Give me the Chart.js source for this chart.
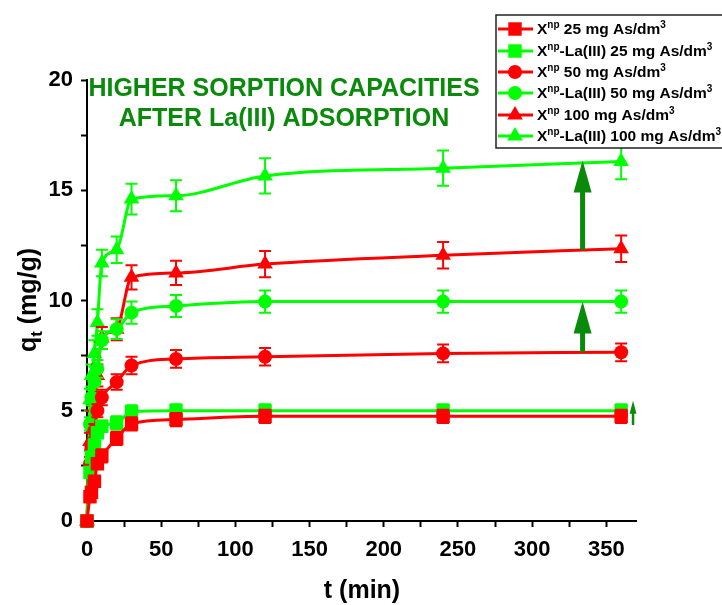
<!DOCTYPE html>
<html>
<head>
<meta charset="utf-8">
<script src="https://cdn.jsdelivr.net/npm/chart.js@4.4.1/dist/chart.umd.min.js"></script>
<style>
  html, body { margin: 0; padding: 0; background: #fff; }
</style>
</head>
<body>
<canvas id="kinetics" width="722" height="605"></canvas>
<script>
// contact time (min)
var times = [0, 2, 3, 5, 7, 10, 20, 30, 60, 120, 240, 360];

// q_t (mg/g) for each series
var np25 = [0, 1.1, 1.3, 1.8, 2.6, 2.95, 3.75, 4.4, 4.6, 4.75, 4.75, 4.75];
var npLa25 = [0, 2.2, 2.9, 3.4, 4.0, 4.3, 4.45, 4.95, 5.0, 5.0, 5.0, 5.0];
var np50 = [0, 2.6, 3.3, 4.1, 5.0, 5.6, 6.3, 7.05, 7.35, 7.45, 7.6, 7.65];
var npLa50 = [0, 4.4, 5.6, 6.3, 6.9, 8.2, 8.7, 9.45, 9.75, 9.95, 9.95, 9.95];
var np100 = [0, 3.6, 4.6, 5.4, 6.6, 8.3, 8.7, 11.05, 11.25, 11.65, 12.05, 12.35];
var npLa100 = [0, 5.5, 6.6, 7.6, 9.0, 11.7, 12.3, 14.6, 14.75, 15.65, 16.0, 16.3];

// error bars (+/-)
var np25Err = [0, 0.2, 0.2, 0.25, 0.25, 0.3, 0.3, 0.3, 0.3, 0.3, 0.3, 0.3];
var npLa25Err = [0, 0.2, 0.2, 0.25, 0.25, 0.25, 0.3, 0.3, 0.3, 0.3, 0.3, 0.3];
var np50Err = [0, 0.3, 0.3, 0.3, 0.3, 0.35, 0.35, 0.4, 0.4, 0.4, 0.4, 0.4];
var npLa50Err = [0, 0.3, 0.35, 0.35, 0.4, 0.4, 0.45, 0.5, 0.5, 0.5, 0.5, 0.5];
var np100Err = [0, 0.4, 0.4, 0.45, 0.5, 0.5, 0.5, 0.55, 0.55, 0.6, 0.6, 0.6];
var npLa100Err = [0, 0.5, 0.5, 0.6, 0.6, 0.6, 0.6, 0.7, 0.7, 0.8, 0.8, 0.8];

// legend labels: [text, superscript] pairs
var labels = [
  [["X", 0], ["np", 1], [" 25 mg As/dm", 0], ["3", 1]],
  [["X", 0], ["np", 1], ["-La(III) 25 mg As/dm", 0], ["3", 1]],
  [["X", 0], ["np", 1], [" 50 mg As/dm", 0], ["3", 1]],
  [["X", 0], ["np", 1], ["-La(III) 50 mg As/dm", 0], ["3", 1]],
  [["X", 0], ["np", 1], [" 100 mg As/dm", 0], ["3", 1]],
  [["X", 0], ["np", 1], ["-La(III) 100 mg As/dm", 0], ["3", 1]]
];

var xTicks = [0, 25, 50, 75, 100, 125, 150, 175, 200, 225, 250, 275, 300, 325, 350];
var titleLines = ["HIGHER SORPTION CAPACITIES", "AFTER La(III) ADSORPTION"];

// arrows: time, from q, to q
var arrowT = [334, 334, 368];
var arrowFrom = [12.3, 7.65, 4.35];
var arrowTo = [16.35, 9.95, 5.45];

var RED = "#ff0000";
var GREEN = "#00ff00";
var DARKGREEN = "#0a8a0a";
var FONT = "'Liberation Sans', Arial, sans-serif";

function pts(ys) {
  return times.map(function(t, i) { return {x: t, y: ys[i]}; });
}

function series(ys, color, style, radius) {
  return {
    data: pts(ys),
    borderColor: color,
    backgroundColor: color,
    borderWidth: 3,
    pointStyle: style,
    pointRadius: radius,
    pointHoverRadius: radius,
    pointBorderWidth: 0,
    cubicInterpolationMode: "monotone",
    clip: false
  };
}

var errs = [np25Err, npLa25Err, np50Err, npLa50Err, np100Err, npLa100Err];

function drawRich(ctx, parts, x, y, size) {
  ctx.textBaseline = "alphabetic";
  ctx.textAlign = "left";
  for (var i = 0; i < parts.length; i++) {
    var sup = parts[i][1];
    ctx.font = "bold " + (sup ? Math.round(size * 0.66) : size) + "px " + FONT;
    ctx.fillText(parts[i][0], x, sup ? y - size * 0.4 : y);
    x += ctx.measureText(parts[i][0]).width;
  }
  return x;
}

var extras = {
  id: "extras",
  beforeDatasetDraw: function(chart, args) {
    var ctx = chart.ctx;
    var ys = chart.scales.y;
    var ds = chart.data.datasets[args.index];
    var e = errs[args.index];
    var meta = args.meta;
    ctx.save();
    ctx.strokeStyle = ds.borderColor;
    ctx.lineWidth = 2;
    for (var j = 0; j < meta.data.length; j++) {
      if (!e[j]) continue;
      var p = meta.data[j];
      var v = ds.data[j].y;
      var top = ys.getPixelForValue(v + e[j]);
      var bot = ys.getPixelForValue(v - e[j]);
      ctx.beginPath();
      ctx.moveTo(p.x, top); ctx.lineTo(p.x, bot);
      ctx.moveTo(p.x - 6, top); ctx.lineTo(p.x + 6, top);
      ctx.moveTo(p.x - 6, bot); ctx.lineTo(p.x + 6, bot);
      ctx.stroke();
    }
    ctx.restore();
  },
  afterDraw: function(chart) {
    var ctx = chart.ctx;
    var xs = chart.scales.x, ys = chart.scales.y;
    ctx.save();

    // arrows
    ctx.fillStyle = DARKGREEN;
    for (var k = 0; k < arrowT.length; k++) {
      var ax = xs.getPixelForValue(arrowT[k]);
      var y0 = ys.getPixelForValue(arrowFrom[k]);
      var y1 = ys.getPixelForValue(arrowTo[k]);
      var big = (arrowTo[k] - arrowFrom[k]) > 1.5;
      var sw = big ? 5 : 2.5, hw = big ? 9 : 3.5, hl = big ? 32 : 13;
      ctx.fillRect(ax - sw / 2, y1 + hl - 2, sw, y0 - y1 - hl + 2);
      ctx.beginPath();
      ctx.moveTo(ax, y1);
      ctx.lineTo(ax + hw, y1 + hl);
      ctx.lineTo(ax - hw, y1 + hl);
      ctx.closePath();
      ctx.fill();
    }

    // title
    ctx.fillStyle = DARKGREEN;
    ctx.font = "bold 25px " + FONT;
    ctx.textAlign = "center";
    ctx.textBaseline = "middle";
    ctx.fillText(titleLines[0], 284, 89);
    ctx.fillText(titleLines[1], 284, 119);

    // axis titles
    ctx.fillStyle = "#000";
    ctx.font = "bold 25px " + FONT;
    ctx.fillText("t (min)", 362, 591);

    ctx.save();
    ctx.translate(27, 300);
    ctx.rotate(-Math.PI / 2);
    ctx.textBaseline = "alphabetic";
    ctx.textAlign = "left";
    ctx.font = "bold 25px " + FONT;
    var wq = ctx.measureText("q").width;
    var wr = ctx.measureText(" (mg/g)").width;
    ctx.font = "bold 17px " + FONT;
    var wt = ctx.measureText("t").width;
    var sx = -(wq + wt + wr) / 2;
    ctx.font = "bold 25px " + FONT;
    ctx.fillText("q", sx, 9);
    ctx.font = "bold 17px " + FONT;
    ctx.fillText("t", sx + wq, 15);
    ctx.font = "bold 25px " + FONT;
    ctx.fillText(" (mg/g)", sx + wq + wt, 9);
    ctx.restore();

    // legend
    ctx.fillStyle = "#fff";
    ctx.fillRect(496, 15, 240, 133);
    ctx.strokeStyle = "#222";
    ctx.lineWidth = 1.5;
    ctx.strokeRect(496, 15, 240, 133);
    var rowY = [29, 51, 72, 93, 115, 136];
    chart.data.datasets.forEach(function(ds, i) {
      var y = rowY[i];
      ctx.strokeStyle = ds.borderColor;
      ctx.lineWidth = 3;
      ctx.beginPath();
      ctx.moveTo(498, y); ctx.lineTo(533, y);
      ctx.stroke();
      ctx.fillStyle = ds.borderColor;
      Chart.helpers.drawPoint(ctx, {pointStyle: ds.pointStyle, radius: ds.pointRadius, borderWidth: 0}, 515, y);
      ctx.fillStyle = "#000";
      drawRich(ctx, labels[i], 537, y + 5, 15.5);
    });

    ctx.restore();
  }
};

var ctx = document.getElementById("kinetics").getContext("2d");
var chart = new Chart(ctx, {
  type: "line",
  data: {
    datasets: [
      series(np25, RED, "rect", 9.5),
      series(npLa25, GREEN, "rect", 9.5),
      series(np50, RED, "circle", 7),
      series(npLa50, GREEN, "circle", 7),
      series(np100, RED, "triangle", 9),
      series(npLa100, GREEN, "triangle", 9)
    ]
  },
  options: {
    responsive: false,
    animation: false,
    layout: {padding: {left: 0, top: 80, right: 86, bottom: 0}},
    plugins: {legend: {display: false}, tooltip: {enabled: false}},
    scales: {
      x: {
        type: "linear",
        min: 0,
        max: 370,
        afterFit: function(s) { s.height = 84; },
        afterBuildTicks: function(s) { s.ticks = xTicks.map(function(v) { return {value: v}; }); },
        border: {color: "#000", width: 2},
        grid: {drawOnChartArea: false, color: "#000", tickLength: 6, tickWidth: 2},
        ticks: {
          autoSkip: false,
          maxRotation: 0,
          padding: 10,
          color: "#000",
          font: {family: FONT, size: 22, weight: "bold"},
          callback: function(v) { return v % 50 === 0 ? v : ""; }
        }
      },
      y: {
        min: 0,
        max: 20,
        afterFit: function(s) { s.width = 87; },
        border: {color: "#000", width: 2},
        grid: {drawOnChartArea: false, color: "#000", tickLength: 6, tickWidth: 2},
        ticks: {
          stepSize: 2.5,
          autoSkip: false,
          padding: 8,
          color: "#000",
          font: {family: FONT, size: 22, weight: "bold"},
          callback: function(v) { return v % 5 === 0 ? v : ""; }
        }
      }
    }
  },
  plugins: [extras]
});
</script>
</body>
</html>
